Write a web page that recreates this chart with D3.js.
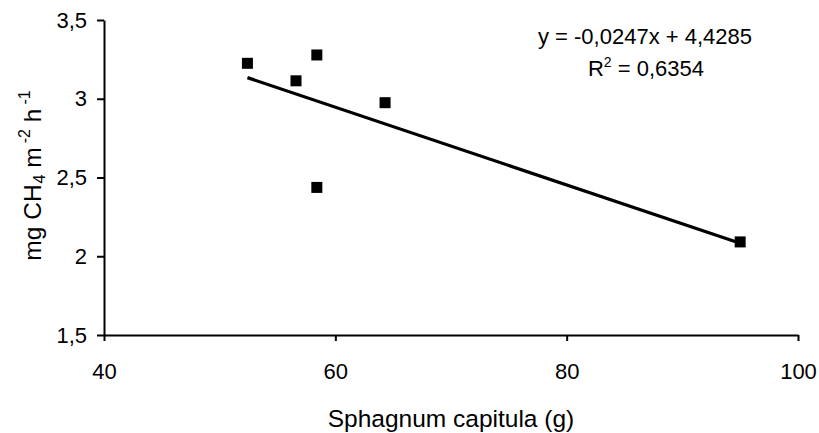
<!DOCTYPE html>
<html>
<head>
<meta charset="utf-8">
<script src="https://cdn.jsdelivr.net/npm/d3@7"></script>
<style>
  html, body { margin: 0; padding: 0; background: #fff; }
  svg { display: block; }
  text { font-family: "Liberation Sans", Arial, sans-serif; fill: #000; }
</style>
</head>
<body>
<div id="chart"></div>
<script>
// ---- data ----
const capitula = [52.4, 56.6, 58.4, 58.4, 64.3, 95.0];
const methane  = [3.225, 3.114, 3.278, 2.437, 2.975, 2.091];
const trendSlope = -0.0247;
const trendIntercept = 4.4285;
const xTicks = [40, 60, 80, 100];
const yTicks = [1.5, 2, 2.5, 3, 3.5];
const equationText = "y = -0,0247x + 4,4285";
const r2Value = "0,6354";
const xTitle = "Sphagnum capitula (g)";

const W = 819, H = 433;
const margin = { left: 104, right: 21, top: 20, bottom: 98 };

const svg = d3.select("#chart").append("svg")
  .attr("width", W).attr("height", H);

const x = d3.scaleLinear().domain([40, 100]).range([margin.left, W - margin.right]);
const y = d3.scaleLinear().domain([1.5, 3.5]).range([H - margin.bottom, margin.top]);

const fmt = d => String(d).replace(".", ",");

// x axis
const xAxis = svg.append("g")
  .attr("transform", `translate(0,${y(1.5)})`)
  .call(d3.axisBottom(x).tickValues(xTicks).tickFormat(fmt).tickSize(6).tickPadding(22).tickSizeOuter(0));
// y axis
const yAxis = svg.append("g")
  .attr("transform", `translate(${x(40)},0)`)
  .call(d3.axisLeft(y).tickValues(yTicks).tickFormat(fmt).tickSize(7).tickPadding(10).tickSizeOuter(0));

[xAxis, yAxis].forEach(g => {
  g.select(".domain").attr("stroke", "#000").attr("stroke-width", 2);
  g.selectAll(".tick line").attr("stroke", "#000").attr("stroke-width", 2);
  g.selectAll(".tick text").attr("font-size", 22).attr("font-family", "Liberation Sans, Arial, sans-serif").attr("fill", "#000");
});

// trend line
const xMin = d3.min(capitula), xMax = d3.max(capitula);
svg.append("line")
  .attr("x1", x(xMin)).attr("y1", y(trendSlope * xMin + trendIntercept))
  .attr("x2", x(xMax)).attr("y2", y(trendSlope * xMax + trendIntercept))
  .attr("stroke", "#000").attr("stroke-width", 3.2);

// points
const s = 11;
svg.append("g").selectAll("rect")
  .data(capitula.map((c, i) => [c, methane[i]]))
  .join("rect")
  .attr("x", d => x(d[0]) - s / 2)
  .attr("y", d => y(d[1]) - s / 2)
  .attr("width", s).attr("height", s)
  .attr("fill", "#000");

// equation
svg.append("text")
  .attr("x", 645).attr("y", 44)
  .attr("text-anchor", "middle").attr("font-size", 22)
  .text(equationText);
const r2 = svg.append("text")
  .attr("x", 646).attr("y", 76)
  .attr("text-anchor", "middle").attr("font-size", 22);
r2.append("tspan").text("R");
r2.append("tspan").attr("font-size", 14).attr("dy", -9).text("2");
r2.append("tspan").attr("dy", 9).text(" = " + r2Value);

// x title
svg.append("text")
  .attr("x", (x(40) + x(100)) / 2).attr("y", 427)
  .attr("text-anchor", "middle").attr("font-size", 24.5)
  .text(xTitle);

// y title
const yt = svg.append("text")
  .attr("transform", `translate(41,${(y(1.5) + y(3.5)) / 2 - 2}) rotate(-90)`)
  .attr("text-anchor", "middle").attr("font-size", 24.5);
yt.append("tspan").text("mg CH");
yt.append("tspan").attr("font-size", 16).attr("dy", 4).attr("dx", 1).text("4");
yt.append("tspan").attr("dy", -4).text(" m");
yt.append("tspan").attr("font-size", 16).attr("dy", -11).attr("dx", 4).text("-2");
yt.append("tspan").attr("dy", 11).text(" h");
yt.append("tspan").attr("font-size", 16).attr("dy", -11).attr("dx", 4).text("-1");
</script>
</body>
</html>
